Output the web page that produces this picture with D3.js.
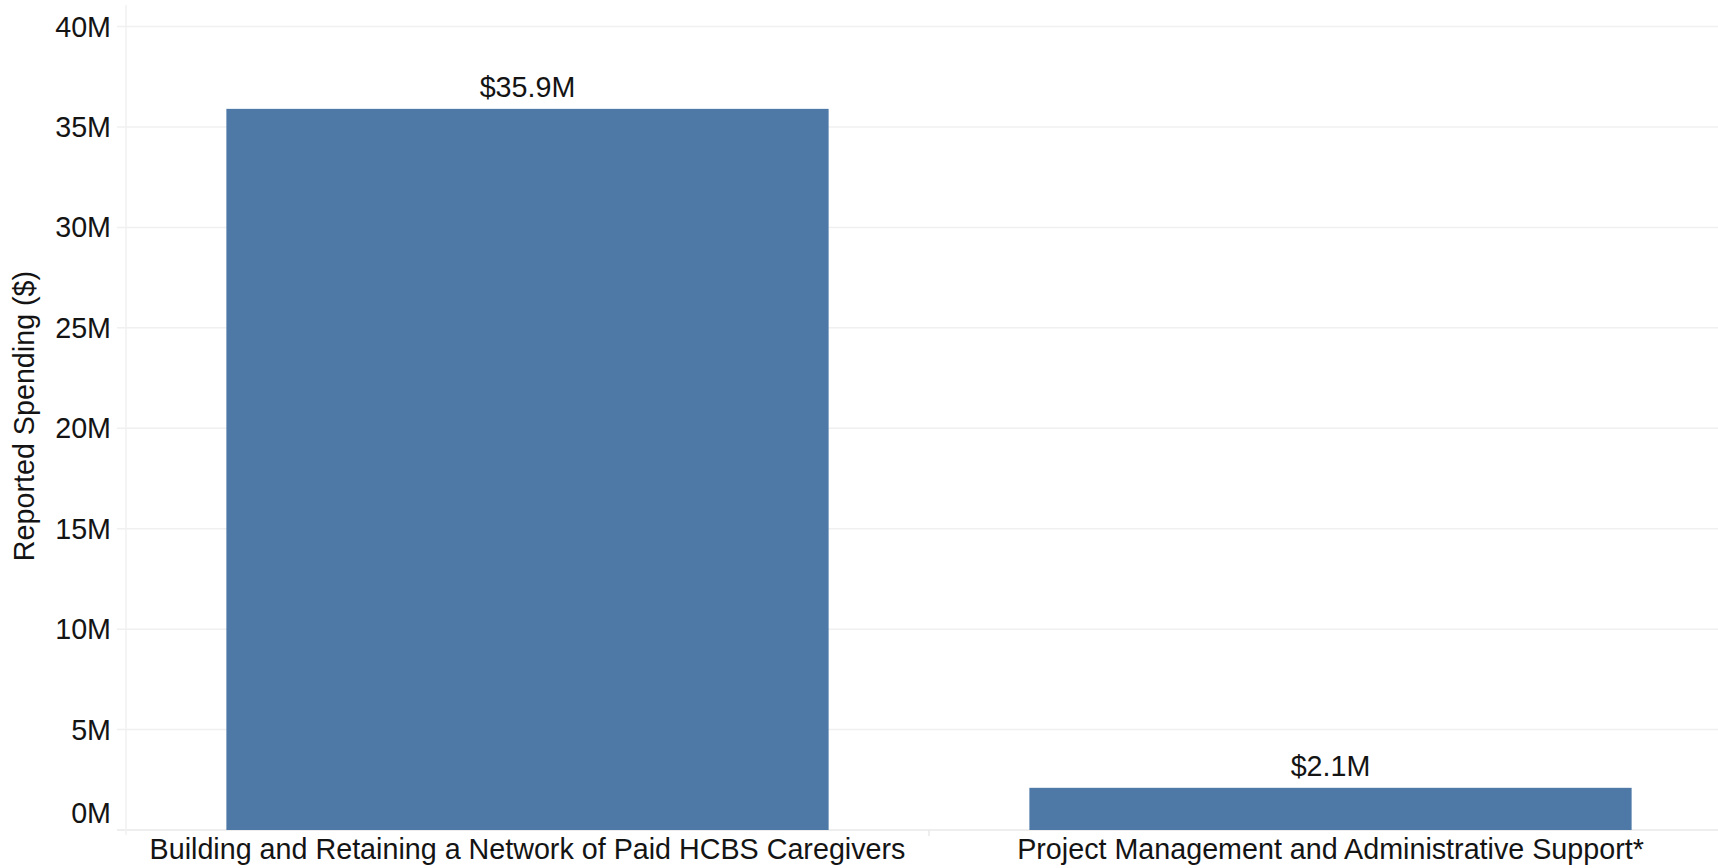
<!DOCTYPE html>
<html>
<head>
<meta charset="utf-8">
<script src="https://cdn.jsdelivr.net/npm/d3@7"></script>
<style>
  html, body { margin: 0; padding: 0; background: #ffffff; }
  svg { display: block; }
  text { font-family: "Liberation Sans", Arial, sans-serif; fill: #141414; }
</style>
</head>
<body>
<svg id="chart" width="1718" height="868"></svg>
<script>
// Reported spending by activity category
const categories = [
  "Building and Retaining a Network of Paid HCBS Caregivers",
  "Project Management and Administrative Support*"
];
const spending = [35.9e6, 2.1e6];
const valueLabels = ["$35.9M", "$2.1M"];
const yTicks = [0, 5e6, 10e6, 15e6, 20e6, 25e6, 30e6, 35e6, 40e6];
const yTickLabels = ["0M", "5M", "10M", "15M", "20M", "25M", "30M", "35M", "40M"];
const yTitle = "Reported Spending ($)";

const W = 1718, H = 868;
const plot = { left: 126, right: 1732, top: 26.5, bottom: 830 };
const fontSize = 28.7;
const barColor = "#4e79a7";
const gridColor = "#f0f0f0";

const svg = d3.select("#chart");

const x = d3.scaleBand()
  .domain(categories)
  .range([plot.left, plot.right])
  .paddingInner(0.25)
  .paddingOuter(0.125);

const y = d3.scaleLinear()
  .domain([0, 40e6])
  .range([plot.bottom, plot.top]);

// Horizontal gridlines
svg.append("g")
  .selectAll("line")
  .data(yTicks)
  .join("line")
  .attr("x1", plot.left - 9)
  .attr("x2", W)
  .attr("y1", d => y(d))
  .attr("y2", d => y(d))
  .attr("stroke", d => d === 0 ? "#e8e8e8" : gridColor)
  .attr("stroke-width", 1.5);

// Left axis rule
svg.append("line")
  .attr("x1", plot.left).attr("x2", plot.left)
  .attr("y1", 5).attr("y2", plot.bottom + 5)
  .attr("stroke", "#f0f0f0")
  .attr("stroke-width", 1.5);

// Category divider tick below the baseline
svg.append("g")
  .selectAll("line")
  .data(categories.slice(1))
  .join("line")
  .attr("x1", d => x(d) - x.step() * x.paddingInner() / 2)
  .attr("x2", d => x(d) - x.step() * x.paddingInner() / 2)
  .attr("y1", plot.bottom)
  .attr("y2", plot.bottom + 6)
  .attr("stroke", "#e8e8e8")
  .attr("stroke-width", 1.5);

// Y tick labels (the bottom one sits inside the pane)
svg.append("g")
  .selectAll("text")
  .data(yTicks)
  .join("text")
  .attr("x", plot.left - 15)
  .attr("y", d => y(d) + (d === 0 ? -17 : 0))
  .attr("text-anchor", "end")
  .attr("dominant-baseline", "central")
  .attr("font-size", fontSize)
  .text((d, i) => yTickLabels[i]);

// Y axis title
svg.append("text")
  .attr("transform", `translate(34, 416) rotate(-90)`)
  .attr("text-anchor", "middle")
  .attr("font-size", fontSize)
  .text(yTitle);

// Bars
svg.append("g")
  .selectAll("rect")
  .data(categories)
  .join("rect")
  .attr("x", d => x(d))
  .attr("width", x.bandwidth())
  .attr("y", (d, i) => y(spending[i]))
  .attr("height", (d, i) => y(0) - y(spending[i]))
  .attr("fill", barColor);

// Value labels above bars
svg.append("g")
  .selectAll("text")
  .data(categories)
  .join("text")
  .attr("x", d => x(d) + x.bandwidth() / 2)
  .attr("y", (d, i) => y(spending[i]) - 12)
  .attr("text-anchor", "middle")
  .attr("font-size", fontSize)
  .text((d, i) => valueLabels[i]);

// Category labels under the baseline
svg.append("g")
  .selectAll("text")
  .data(categories)
  .join("text")
  .attr("x", d => x(d) + x.bandwidth() / 2)
  .attr("y", 859)
  .attr("text-anchor", "middle")
  .attr("font-size", fontSize)
  .text(d => d);
</script>
</body>
</html>
